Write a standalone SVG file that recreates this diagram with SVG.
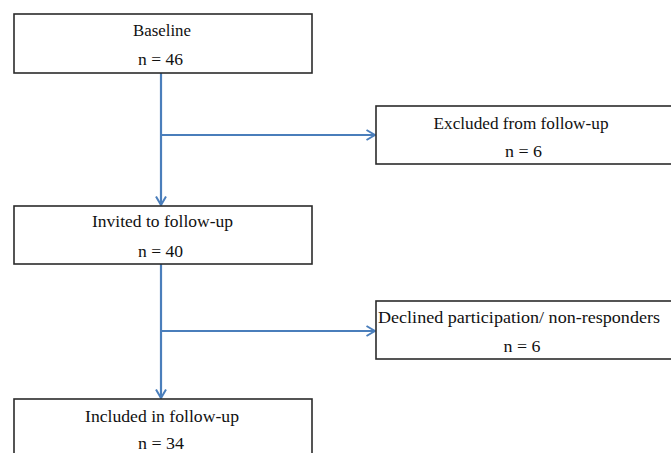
<svg xmlns="http://www.w3.org/2000/svg" width="671" height="453" viewBox="0 0 671 453">
<style>
.box{fill:#fff;stroke:#2b2b2b;stroke-width:1.6}
.t{font-family:"Liberation Serif","Times New Roman",serif;font-size:17px;fill:#111;text-anchor:middle}
.c{stroke:#4a7ebb;stroke-width:2.2;fill:none}
</style>
<defs>
<marker id="ah" viewBox="0 0 10 12" refX="9.5" refY="6" markerWidth="10" markerHeight="12" markerUnits="userSpaceOnUse" orient="auto">
<path d="M1,1 L9.5,6 L1,11" fill="none" stroke="#4a7ebb" stroke-width="2"/>
</marker>
</defs>
<rect width="671" height="453" fill="#fff"/>
<g id="connectors">
<line class="c" x1="161" y1="73" x2="161" y2="205" marker-end="url(#ah)"/>
<line class="c" x1="161" y1="135" x2="375" y2="135" marker-end="url(#ah)"/>
<line class="c" x1="161" y1="264" x2="161" y2="398" marker-end="url(#ah)"/>
<line class="c" x1="161" y1="331" x2="375" y2="331" marker-end="url(#ah)"/>
</g>
<g id="baseline">
<rect class="box" x="14" y="14" width="298" height="59"/>
<text class="t" x="162" y="36" textLength="58" lengthAdjust="spacingAndGlyphs">Baseline</text>
<text class="t" x="160.5" y="65" textLength="45" lengthAdjust="spacingAndGlyphs">n = 46</text>
</g>
<g id="excluded">
<rect class="box" x="376" y="106" width="300" height="58"/>
<text class="t" x="521" y="129" textLength="175" lengthAdjust="spacingAndGlyphs">Excluded from follow-up</text>
<text class="t" x="523.5" y="157" textLength="37" lengthAdjust="spacingAndGlyphs">n = 6</text>
</g>
<g id="invited">
<rect class="box" x="14" y="206" width="298" height="58"/>
<text class="t" x="162.5" y="227" textLength="141" lengthAdjust="spacingAndGlyphs">Invited to follow-up</text>
<text class="t" x="160.5" y="257" textLength="45" lengthAdjust="spacingAndGlyphs">n = 40</text>
</g>
<g id="declined">
<rect class="box" x="376" y="301" width="300" height="58"/>
<text class="t" x="519" y="323" textLength="282" lengthAdjust="spacingAndGlyphs">Declined participation/ non-responders</text>
<text class="t" x="522" y="352" textLength="37" lengthAdjust="spacingAndGlyphs">n = 6</text>
</g>
<g id="included">
<rect class="box" x="14" y="399" width="298" height="70"/>
<text class="t" x="162" y="422" textLength="154" lengthAdjust="spacingAndGlyphs">Included in follow-up</text>
<text class="t" x="161" y="449" textLength="46" lengthAdjust="spacingAndGlyphs">n = 34</text>
</g>
</svg>
